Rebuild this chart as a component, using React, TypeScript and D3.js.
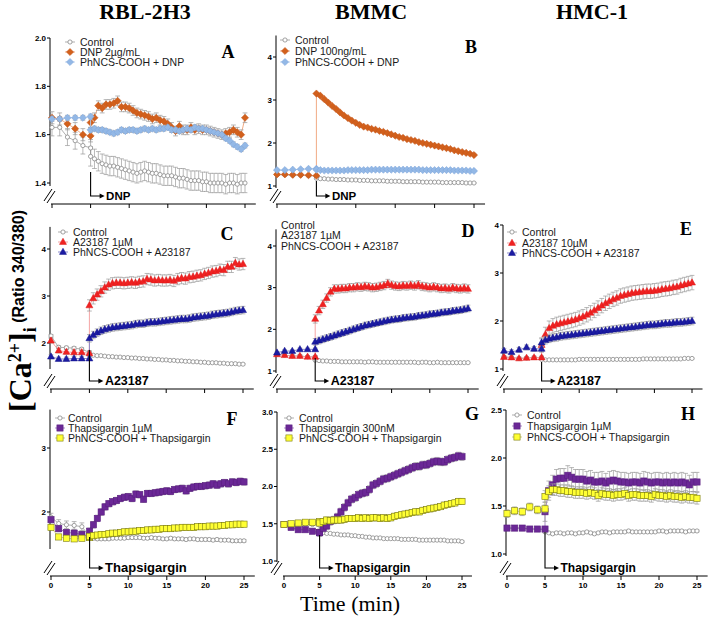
import React from "react";
import * as d3 from "d3";

// ---------- time points (min) ----------
const T_PRE = [0, 1, 2, 3, 4, 5];
const T_POST = [5, 5.5, 6, 6.5, 7, 7.5, 8, 8.5, 9, 9.5, 10, 10.5, 11, 11.5, 12, 12.5, 13, 13.5, 14, 14.5, 15, 15.5, 16, 16.5, 17, 17.5, 18, 18.5, 19, 19.5, 20, 20.5, 21, 21.5, 22, 22.5, 23, 23.5, 24, 24.5, 25];
const X_TICKS = [0, 5, 10, 15, 20, 25];

// ---------- Panel A (RBL-2H3, DNP) ----------
const A_CTRL_PRE = [1.63, 1.63, 1.59, 1.575, 1.555, 1.545];
const A_CTRL_POST = [1.51, 1.50, 1.49, 1.48, 1.475, 1.47, 1.47, 1.465, 1.46, 1.455, 1.45, 1.445, 1.44, 1.445, 1.45, 1.445, 1.44, 1.44, 1.435, 1.43, 1.43, 1.43, 1.425, 1.42, 1.42, 1.415, 1.41, 1.41, 1.41, 1.405, 1.405, 1.40, 1.40, 1.40, 1.40, 1.395, 1.40, 1.40, 1.395, 1.40, 1.40];
const A_DNP_PRE = [1.67, 1.665, 1.645, 1.625, 1.60, 1.595];
const A_DNP_POST = [1.65, 1.67, 1.72, 1.71, 1.725, 1.725, 1.73, 1.74, 1.715, 1.715, 1.71, 1.70, 1.69, 1.685, 1.68, 1.675, 1.665, 1.67, 1.66, 1.655, 1.645, 1.63, 1.615, 1.635, 1.62, 1.62, 1.63, 1.62, 1.625, 1.62, 1.62, 1.615, 1.61, 1.605, 1.60, 1.605, 1.61, 1.62, 1.61, 1.60, 1.67];
const A_PH_PRE = [1.665, 1.665, 1.67, 1.67, 1.67, 1.675];
const A_PH_POST = [1.62, 1.625, 1.62, 1.62, 1.615, 1.61, 1.605, 1.61, 1.62, 1.615, 1.62, 1.62, 1.615, 1.62, 1.625, 1.62, 1.625, 1.62, 1.625, 1.625, 1.63, 1.62, 1.62, 1.615, 1.62, 1.625, 1.62, 1.63, 1.625, 1.625, 1.62, 1.615, 1.61, 1.605, 1.60, 1.585, 1.575, 1.56, 1.55, 1.54, 1.555];

// ---------- Panel B (BMMC, DNP) ----------
const B_CTRL_PRE = [1.26, 1.26, 1.25, 1.25, 1.24, 1.23];
const B_CTRL_POST = [1.18, 1.17, 1.17, 1.16, 1.16, 1.15, 1.15, 1.15, 1.14, 1.14, 1.14, 1.13, 1.13, 1.13, 1.12, 1.12, 1.12, 1.12, 1.11, 1.11, 1.11, 1.11, 1.10, 1.10, 1.10, 1.10, 1.10, 1.09, 1.09, 1.09, 1.09, 1.09, 1.08, 1.08, 1.08, 1.08, 1.08, 1.08, 1.07, 1.07, 1.07];
const B_DNP_PRE = [1.27, 1.27, 1.26, 1.26, 1.25, 1.24];
const B_DNP_POST = [3.15, 3.10, 3.02, 2.94, 2.86, 2.79, 2.71, 2.64, 2.58, 2.52, 2.47, 2.42, 2.38, 2.36, 2.33, 2.31, 2.28, 2.26, 2.23, 2.20, 2.17, 2.14, 2.12, 2.09, 2.07, 2.05, 2.02, 2.00, 1.98, 1.96, 1.94, 1.92, 1.90, 1.88, 1.86, 1.83, 1.81, 1.79, 1.77, 1.75, 1.72];
const B_PH_PRE = [1.37, 1.37, 1.38, 1.39, 1.40, 1.40];
const B_PH_POST = [1.38, 1.37, 1.36, 1.36, 1.36, 1.36, 1.36, 1.36, 1.37, 1.37, 1.37, 1.37, 1.37, 1.37, 1.38, 1.38, 1.38, 1.38, 1.38, 1.38, 1.38, 1.38, 1.38, 1.38, 1.38, 1.38, 1.38, 1.37, 1.37, 1.37, 1.37, 1.37, 1.37, 1.37, 1.37, 1.36, 1.36, 1.36, 1.36, 1.35, 1.35];

// ---------- Panel C (RBL-2H3, A23187) ----------
const C_CTRL_PRE = [2.15, 1.91, 1.90, 1.89, 1.87, 1.80];
const C_CTRL_POST = [1.75, 1.74, 1.73, 1.73, 1.72, 1.71, 1.71, 1.70, 1.70, 1.69, 1.69, 1.68, 1.68, 1.67, 1.67, 1.66, 1.66, 1.65, 1.65, 1.64, 1.64, 1.63, 1.63, 1.62, 1.62, 1.61, 1.61, 1.60, 1.60, 1.59, 1.59, 1.58, 1.58, 1.58, 1.57, 1.57, 1.56, 1.56, 1.56, 1.55, 1.55];
const C_A23_PRE = [2.05, 1.84, 1.81, 1.80, 1.80, 1.78];
const C_A23_POST = [2.80, 2.95, 3.03, 3.10, 3.18, 3.24, 3.27, 3.28, 3.28, 3.27, 3.28, 3.29, 3.28, 3.30, 3.31, 3.36, 3.35, 3.33, 3.34, 3.33, 3.33, 3.34, 3.32, 3.36, 3.38, 3.37, 3.40, 3.41, 3.43, 3.44, 3.47, 3.49, 3.52, 3.53, 3.56, 3.55, 3.62, 3.62, 3.70, 3.67, 3.68];
const C_PH_PRE = [1.71, 1.66, 1.66, 1.67, 1.67, 1.67];
const C_PH_POST = [2.10, 2.17, 2.22, 2.26, 2.29, 2.31, 2.33, 2.34, 2.35, 2.36, 2.37, 2.38, 2.40, 2.41, 2.41, 2.43, 2.44, 2.44, 2.45, 2.46, 2.47, 2.48, 2.49, 2.50, 2.51, 2.51, 2.52, 2.54, 2.55, 2.56, 2.57, 2.58, 2.60, 2.61, 2.62, 2.63, 2.64, 2.66, 2.68, 2.69, 2.70];

// ---------- Panel D (BMMC, A23187) ----------
const D_CTRL_PRE = [1.40, 1.38, 1.36, 1.36, 1.34, 1.34];
const D_CTRL_POST = [1.26, 1.25, 1.24, 1.24, 1.23, 1.23, 1.23, 1.22, 1.22, 1.22, 1.22, 1.22, 1.22, 1.21, 1.22, 1.22, 1.21, 1.21, 1.21, 1.21, 1.21, 1.21, 1.21, 1.21, 1.21, 1.21, 1.21, 1.20, 1.21, 1.21, 1.20, 1.20, 1.21, 1.20, 1.20, 1.20, 1.20, 1.20, 1.20, 1.20, 1.20];
const D_A23_PRE = [1.40, 1.38, 1.36, 1.36, 1.34, 1.34];
const D_A23_POST = [2.25, 2.45, 2.60, 2.75, 2.90, 2.97, 2.97, 2.98, 2.98, 3.00, 3.00, 3.02, 3.01, 3.03, 3.02, 3.00, 3.01, 3.03, 3.05, 3.10, 3.06, 3.04, 3.03, 3.05, 3.04, 3.06, 3.04, 3.07, 3.03, 3.02, 3.00, 3.02, 3.00, 2.98, 2.99, 2.97, 3.00, 2.98, 2.97, 2.99, 2.97];
const D_PH_PRE = [1.44, 1.48, 1.48, 1.52, 1.52, 1.52];
const D_PH_POST = [1.70, 1.73, 1.76, 1.79, 1.82, 1.85, 1.88, 1.91, 1.94, 1.97, 2.00, 2.03, 2.06, 2.09, 2.11, 2.13, 2.15, 2.17, 2.19, 2.21, 2.23, 2.24, 2.25, 2.27, 2.28, 2.29, 2.30, 2.32, 2.33, 2.34, 2.36, 2.37, 2.38, 2.40, 2.41, 2.42, 2.44, 2.45, 2.46, 2.48, 2.50];

// ---------- Panel E (HMC-1, A23187) ----------
const E_CTRL_PRE = [1.25, 1.24, 1.22, 1.23, 1.24, 1.24];
const E_CTRL_POST = [1.20, 1.19, 1.19, 1.19, 1.19, 1.19, 1.19, 1.19, 1.19, 1.19, 1.20, 1.20, 1.20, 1.20, 1.20, 1.20, 1.20, 1.20, 1.20, 1.20, 1.20, 1.20, 1.20, 1.20, 1.20, 1.20, 1.20, 1.21, 1.21, 1.21, 1.21, 1.21, 1.21, 1.21, 1.21, 1.21, 1.21, 1.21, 1.22, 1.22, 1.22];
const E_A23_PRE = [1.25, 1.24, 1.22, 1.23, 1.24, 1.24];
const E_A23_POST = [1.50, 1.72, 1.85, 1.90, 1.93, 1.95, 1.97, 1.99, 2.01, 2.03, 2.06, 2.09, 2.13, 2.17, 2.22, 2.27, 2.32, 2.37, 2.41, 2.45, 2.48, 2.52, 2.54, 2.56, 2.58, 2.59, 2.60, 2.61, 2.62, 2.62, 2.63, 2.64, 2.66, 2.67, 2.68, 2.70, 2.71, 2.74, 2.76, 2.78, 2.80];
const E_PH_PRE = [1.38, 1.35, 1.40, 1.45, 1.42, 1.42];
const E_PH_POST = [1.55, 1.60, 1.63, 1.65, 1.66, 1.68, 1.69, 1.70, 1.71, 1.72, 1.73, 1.74, 1.75, 1.76, 1.77, 1.78, 1.79, 1.80, 1.81, 1.82, 1.83, 1.84, 1.85, 1.86, 1.87, 1.88, 1.89, 1.90, 1.91, 1.92, 1.92, 1.93, 1.94, 1.95, 1.95, 1.96, 1.97, 1.97, 1.98, 1.99, 2.00];

// ---------- Panel F (RBL-2H3, Thapsigargin) ----------
const F_CTRL_PRE = [1.92, 1.82, 1.80, 1.79, 1.77, 1.62];
const F_CTRL_POST = [1.60, 1.59, 1.58, 1.58, 1.58, 1.58, 1.59, 1.59, 1.59, 1.59, 1.60, 1.60, 1.60, 1.60, 1.59, 1.59, 1.60, 1.59, 1.59, 1.58, 1.58, 1.59, 1.58, 1.58, 1.58, 1.57, 1.58, 1.58, 1.57, 1.57, 1.57, 1.57, 1.56, 1.57, 1.56, 1.56, 1.56, 1.55, 1.55, 1.55, 1.55];
const F_TH_PRE = [1.88, 1.74, 1.68, 1.67, 1.65, 1.62];
const F_TH_POST = [1.70, 1.80, 1.90, 2.00, 2.08, 2.13, 2.16, 2.18, 2.21, 2.23, 2.24, 2.21, 2.28, 2.27, 2.20, 2.29, 2.29, 2.30, 2.31, 2.32, 2.33, 2.32, 2.35, 2.36, 2.37, 2.33, 2.37, 2.39, 2.40, 2.40, 2.41, 2.42, 2.44, 2.42, 2.44, 2.46, 2.44, 2.47, 2.46, 2.48, 2.47];
const F_PH_PRE = [1.76, 1.61, 1.59, 1.58, 1.59, 1.60];
const F_PH_POST = [1.62, 1.63, 1.64, 1.65, 1.65, 1.66, 1.67, 1.67, 1.68, 1.69, 1.69, 1.70, 1.70, 1.71, 1.71, 1.72, 1.72, 1.73, 1.73, 1.74, 1.74, 1.74, 1.75, 1.75, 1.76, 1.76, 1.76, 1.76, 1.77, 1.77, 1.77, 1.78, 1.78, 1.78, 1.79, 1.79, 1.80, 1.80, 1.81, 1.81, 1.81];

// ---------- Panel G (BMMC, Thapsigargin) ----------
const G_CTRL_PRE = [1.50, 1.50, 1.50, 1.49, 1.49, 1.48];
const G_CTRL_POST = [1.40, 1.38, 1.37, 1.37, 1.36, 1.36, 1.35, 1.35, 1.35, 1.34, 1.34, 1.33, 1.33, 1.32, 1.32, 1.31, 1.31, 1.31, 1.30, 1.30, 1.30, 1.30, 1.30, 1.29, 1.29, 1.29, 1.29, 1.29, 1.28, 1.28, 1.28, 1.28, 1.28, 1.28, 1.28, 1.28, 1.27, 1.27, 1.27, 1.27, 1.26];
const G_TH_PRE = [1.49, 1.45, 1.42, 1.42, 1.40, 1.38];
const G_TH_POST = [1.38, 1.44, 1.47, 1.53, 1.55, 1.59, 1.66, 1.72, 1.78, 1.83, 1.85, 1.89, 1.91, 1.92, 1.96, 2.02, 2.04, 2.07, 2.10, 2.11, 2.13, 2.15, 2.17, 2.19, 2.21, 2.23, 2.25, 2.27, 2.27, 2.29, 2.29, 2.31, 2.33, 2.34, 2.33, 2.33, 2.36, 2.38, 2.39, 2.41, 2.40];
const G_PH_PRE = [1.49, 1.50, 1.51, 1.52, 1.52, 1.53];
const G_PH_POST = [1.51, 1.53, 1.55, 1.54, 1.55, 1.55, 1.55, 1.56, 1.57, 1.57, 1.57, 1.58, 1.57, 1.58, 1.57, 1.58, 1.58, 1.57, 1.58, 1.57, 1.58, 1.60, 1.61, 1.62, 1.63, 1.64, 1.65, 1.66, 1.66, 1.68, 1.69, 1.70, 1.71, 1.72, 1.73, 1.75, 1.76, 1.77, 1.78, 1.80, 1.80];

// ---------- Panel H (HMC-1, Thapsigargin) ----------
const H_CTRL_PRE = [1.27, 1.27, 1.27, 1.26, 1.26, 1.25];
const H_CTRL_POST = [1.23, 1.22, 1.21, 1.22, 1.22, 1.21, 1.22, 1.22, 1.21, 1.22, 1.22, 1.23, 1.22, 1.21, 1.22, 1.23, 1.23, 1.22, 1.23, 1.23, 1.23, 1.23, 1.24, 1.23, 1.23, 1.23, 1.23, 1.23, 1.23, 1.23, 1.24, 1.24, 1.23, 1.24, 1.24, 1.24, 1.24, 1.23, 1.24, 1.24, 1.24];
const H_TH_PRE = [1.27, 1.27, 1.27, 1.26, 1.26, 1.26];
const H_TH_POST = [1.44, 1.66, 1.72, 1.78, 1.79, 1.79, 1.82, 1.80, 1.78, 1.78, 1.78, 1.76, 1.77, 1.75, 1.75, 1.76, 1.74, 1.76, 1.77, 1.76, 1.75, 1.75, 1.74, 1.75, 1.75, 1.74, 1.76, 1.75, 1.74, 1.75, 1.75, 1.74, 1.75, 1.74, 1.75, 1.74, 1.75, 1.74, 1.72, 1.75, 1.75];
const H_PH_PRE = [1.42, 1.45, 1.44, 1.49, 1.46, 1.47];
const H_PH_POST = [1.60, 1.65, 1.67, 1.67, 1.66, 1.66, 1.65, 1.65, 1.64, 1.64, 1.64, 1.63, 1.64, 1.63, 1.61, 1.63, 1.62, 1.62, 1.61, 1.62, 1.62, 1.63, 1.61, 1.62, 1.62, 1.61, 1.61, 1.61, 1.60, 1.62, 1.61, 1.61, 1.60, 1.61, 1.60, 1.60, 1.59, 1.60, 1.59, 1.59, 1.58];

// ---------- y ticks ----------
const YT_A = [1.4, 1.6, 1.8, 2.0];
const YT_B = [1, 2, 3, 4];
const YT_C = [2, 3, 4];
const YT_D = [1, 2, 3, 4];
const YT_E = [1, 2, 3, 4];
const YT_F = [2, 3];
const YT_G = [1.0, 1.5, 2.0, 2.5, 3.0];
const YT_H = [1.0, 1.5, 2.0, 2.5];

const COLUMN_TITLES = ["RBL-2H3", "BMMC", "HMC-1"];

const SANS = "'Liberation Sans', Arial, Helvetica, sans-serif";
const SERIF = "'Liberation Serif', 'Times New Roman', Times, serif";

type Kind = "control" | "dnp" | "phdnp" | "a23" | "pha23" | "thap" | "phthap";

const STYLE: Record<Kind, { shape: string; fill: string; stroke: string; line: string }> = {
  control: { shape: "circle", fill: "#ffffff", stroke: "#8a8a8a", line: "#a6a6a6" },
  dnp: { shape: "diamond", fill: "#d2601c", stroke: "#c2541a", line: "#eea277" },
  phdnp: { shape: "diamond", fill: "#93b8e6", stroke: "#7aa3d8", line: "#b4cdee" },
  a23: { shape: "triangle", fill: "#ef2222", stroke: "#e01818", line: "#f49a9a" },
  pha23: { shape: "triangle", fill: "#1b1ba3", stroke: "#12128c", line: "#7d7dc6" },
  thap: { shape: "square", fill: "#6b2896", stroke: "#5a1f80", line: "#a27ec0" },
  phthap: { shape: "square", fill: "#ffff33", stroke: "#7b7b12", line: "#cfcf70" },
};

interface SeriesCfg { kind: Kind; label: string; pre: number[]; post: number[]; err: number[] }
interface PanelCfg {
  id: string;
  axisX: number;
  xRange: [number, number];
  yDomain: [number, number];
  yRange: [number, number];
  yTop: number;
  yBottomPx: number;
  xAxisY: number;
  yTicks: number[];
  fmt: string;
  showXLabels: boolean;
  series: SeriesCfg[];
  legend: { mx: number; tx: number; rows: number[]; markers: boolean };
  letter: [number, number];
  stim: { label: string; top: number; size: number };
}

const PANELS: PanelCfg[] = [
  {
    id: "A", axisX: 50, xRange: [52, 245], yDomain: [1.4, 2.0], yRange: [183, 38], yTop: 2.0, yBottomPx: 186, xAxisY: 204,
    yTicks: YT_A, fmt: ".1f", showXLabels: false,
    series: [
      { kind: "control", label: "Control", pre: A_CTRL_PRE, post: A_CTRL_POST, err: [0.035, 0.04] },
      { kind: "dnp", label: "DNP 2\u00b5g/mL", pre: A_DNP_PRE, post: A_DNP_POST, err: [0.025, 0.02] },
      { kind: "phdnp", label: "PhNCS-COOH + DNP", pre: A_PH_PRE, post: A_PH_POST, err: [0.01, 0.01] },
    ],
    legend: { mx: 70, tx: 80, rows: [42, 52, 62], markers: true }, letter: [228, 58],
    stim: { label: "DNP", top: 172, size: 11.5 },
  },
  {
    id: "B", axisX: 276, xRange: [277, 474], yDomain: [1, 4], yRange: [186, 57], yTop: 4.5, yBottomPx: 188, xAxisY: 204,
    yTicks: YT_B, fmt: ".0f", showXLabels: false,
    series: [
      { kind: "control", label: "Control", pre: B_CTRL_PRE, post: B_CTRL_POST, err: [0.01, 0.01] },
      { kind: "dnp", label: "DNP 100ng/mL", pre: B_DNP_PRE, post: B_DNP_POST, err: [0.02, 0.02] },
      { kind: "phdnp", label: "PhNCS-COOH + DNP", pre: B_PH_PRE, post: B_PH_POST, err: [0.01, 0.01] },
    ],
    legend: { mx: 285, tx: 295, rows: [40, 51, 62], markers: true }, letter: [471, 53],
    stim: { label: "DNP", top: 181, size: 11.5 },
  },
  {
    id: "C", axisX: 50, xRange: [51, 243], yDomain: [2, 4], yRange: [343, 249], yTop: 4.47, yBottomPx: 369, xAxisY: 389,
    yTicks: YT_C, fmt: ".0f", showXLabels: false,
    series: [
      { kind: "control", label: "Control", pre: C_CTRL_PRE, post: C_CTRL_POST, err: [0.03, 0.015] },
      { kind: "a23", label: "A23187 1\u00b5M", pre: C_A23_PRE, post: C_A23_POST, err: [0.05, 0.12] },
      { kind: "pha23", label: "PhNCS-COOH + A23187", pre: C_PH_PRE, post: C_PH_POST, err: [0.04, 0.08] },
    ],
    legend: { mx: 63, tx: 73, rows: [232, 242, 252], markers: true }, letter: [227, 240],
    stim: { label: "A23187", top: 350, size: 12.5 },
  },
  {
    id: "D", axisX: 276, xRange: [277, 468], yDomain: [1, 4], yRange: [371, 246], yTop: 4.4, yBottomPx: 373, xAxisY: 389,
    yTicks: YT_D, fmt: ".0f", showXLabels: false,
    series: [
      { kind: "control", label: "Control", pre: D_CTRL_PRE, post: D_CTRL_POST, err: [0.02, 0.01] },
      { kind: "a23", label: "A23187 1\u00b5M", pre: D_A23_PRE, post: D_A23_POST, err: [0.03, 0.1] },
      { kind: "pha23", label: "PhNCS-COOH + A23187", pre: D_PH_PRE, post: D_PH_POST, err: [0.03, 0.08] },
    ],
    legend: { mx: 281, tx: 281, rows: [225, 235, 246], markers: false }, letter: [468, 237],
    stim: { label: "A23187", top: 358, size: 12.5 },
  },
  {
    id: "E", axisX: 503, xRange: [504, 692], yDomain: [1, 4], yRange: [369, 225], yTop: 4.0, yBottomPx: 371, xAxisY: 389,
    yTicks: YT_E, fmt: ".0f", showXLabels: false,
    series: [
      { kind: "control", label: "Control", pre: E_CTRL_PRE, post: E_CTRL_POST, err: [0.01, 0.01] },
      { kind: "a23", label: "A23187 10\u00b5M", pre: E_A23_PRE, post: E_A23_POST, err: [0.03, 0.15] },
      { kind: "pha23", label: "PhNCS-COOH + A23187", pre: E_PH_PRE, post: E_PH_POST, err: [0.05, 0.08] },
    ],
    legend: { mx: 512, tx: 522, rows: [232, 243, 253], markers: true }, letter: [686, 235],
    stim: { label: "A23187", top: 362, size: 12.5 },
  },
  {
    id: "F", axisX: 50, xRange: [51, 244], yDomain: [2, 3], yRange: [512, 448], yTop: 3.6, yBottomPx: 549, xAxisY: 576,
    yTicks: YT_F, fmt: ".0f", showXLabels: true,
    series: [
      { kind: "control", label: "Control", pre: F_CTRL_PRE, post: F_CTRL_POST, err: [0.06, 0.02] },
      { kind: "thap", label: "Thapsigargin 1\u00b5M", pre: F_TH_PRE, post: F_TH_POST, err: [0.05, 0.05] },
      { kind: "phthap", label: "PhNCS-COOH + Thapsigargin", pre: F_PH_PRE, post: F_PH_POST, err: [0.03, 0.04] },
    ],
    legend: { mx: 60, tx: 68, rows: [418, 428, 438], markers: true }, letter: [232, 425],
    stim: { label: "Thapsigargin", top: 537, size: 13 },
  },
  {
    id: "G", axisX: 277, xRange: [284, 462], yDomain: [1, 3], yRange: [561, 412], yTop: 3.0, yBottomPx: 562, xAxisY: 576,
    yTicks: YT_G, fmt: ".1f", showXLabels: true,
    series: [
      { kind: "control", label: "Control", pre: G_CTRL_PRE, post: G_CTRL_POST, err: [0.01, 0.01] },
      { kind: "thap", label: "Thapsigargin 300nM", pre: G_TH_PRE, post: G_TH_POST, err: [0.02, 0.05] },
      { kind: "phthap", label: "PhNCS-COOH + Thapsigargin", pre: G_PH_PRE, post: G_PH_POST, err: [0.02, 0.04] },
    ],
    legend: { mx: 289, tx: 299, rows: [418, 428, 438], markers: true }, letter: [472, 420],
    stim: { label: "Thapsigargin", top: 535, size: 12 },
  },
  {
    id: "H", axisX: 506, xRange: [507, 697], yDomain: [1, 2.5], yRange: [554, 410], yTop: 2.5, yBottomPx: 556, xAxisY: 576,
    yTicks: YT_H, fmt: ".1f", showXLabels: true,
    series: [
      { kind: "control", label: "Control", pre: H_CTRL_PRE, post: H_CTRL_POST, err: [0.01, 0.01] },
      { kind: "thap", label: "Thapsigargin 1\u00b5M", pre: H_TH_PRE, post: H_TH_POST, err: [0.02, 0.1] },
      { kind: "phthap", label: "PhNCS-COOH + Thapsigargin", pre: H_PH_PRE, post: H_PH_POST, err: [0.04, 0.06] },
    ],
    legend: { mx: 517, tx: 527, rows: [415, 426, 437], markers: true }, letter: [688, 420],
    stim: { label: "Thapsigargin", top: 532, size: 12 },
  },
];

function Marker({ kind, x, y }: { kind: Kind; x: number; y: number }) {
  const s = STYLE[kind];
  if (s.shape === "circle")
    return <circle cx={x} cy={y} r={2.1} fill={s.fill} stroke={s.stroke} strokeWidth={0.8} />;
  if (s.shape === "diamond")
    return <path d={`M${x},${y - 3.6}L${x + 3.6},${y}L${x},${y + 3.6}L${x - 3.6},${y}Z`} fill={s.fill} stroke={s.stroke} strokeWidth={0.5} />;
  if (s.shape === "triangle")
    return <path d={`M${x},${y - 3.8}L${x + 3.5},${y + 2.4}L${x - 3.5},${y + 2.4}Z`} fill={s.fill} stroke={s.stroke} strokeWidth={0.5} />;
  return <rect x={x - 3.1} y={y - 3.1} width={6.2} height={6.2} fill={s.fill} stroke={s.stroke} strokeWidth={0.6} />;
}

function Panel({ p }: { p: PanelCfg }) {
  const x = d3.scaleLinear().domain([0, 25]).range(p.xRange);
  const y = d3.scaleLinear().domain(p.yDomain).range(p.yRange);
  const fmt = d3.format(p.fmt);
  const line = d3.line<{ t: number; v: number }>().x((d) => x(d.t)).y((d) => y(d.v));
  const ax = p.axisX;
  const xa = p.xAxisY;
  const x5 = x(5);
  const armY = xa - 8;

  return (
    <g>
      {/* y axis */}
      <line x1={ax} x2={ax} y1={y(p.yTop)} y2={p.yBottomPx} stroke="#000" strokeWidth={1} />
      {p.yTicks.map((t) => (
        <g key={t}>
          <line x1={ax - 3} x2={ax} y1={y(t)} y2={y(t)} stroke="#000" strokeWidth={1} />
          <text x={ax - 4} y={y(t)} dy="0.35em" textAnchor="end" fontFamily={SANS} fontWeight="bold" fontSize={8} fill="#000">
            {fmt(t)}
          </text>
        </g>
      ))}
      {/* axis break */}
      <line x1={ax - 6} y1={xa - 3} x2={ax + 2} y2={xa - 15} stroke="#000" strokeWidth={1} />
      <line x1={ax - 3} y1={xa - 1} x2={ax + 5} y2={xa - 13} stroke="#000" strokeWidth={1} />
      {/* x axis */}
      <line x1={x(0) - 1} x2={x(26.4)} y1={xa} y2={xa} stroke="#000" strokeWidth={1} />
      {X_TICKS.map((t) => (
        <g key={t}>
          <line x1={x(t)} x2={x(t)} y1={xa} y2={xa + 4} stroke="#000" strokeWidth={1} />
          {p.showXLabels && (
            <text x={x(t)} y={xa + 12} textAnchor="middle" fontFamily={SANS} fontWeight="bold" fontSize={8} fill="#000">
              {t}
            </text>
          )}
        </g>
      ))}
      {/* series */}
      {p.series.map((s, si) => {
        const pts = [
          ...T_PRE.map((t, i) => ({ t, v: s.pre[i], e: s.err[0] })),
          ...T_POST.map((t, i) => ({ t, v: s.post[i], e: s.err[1] })),
        ];
        const st = STYLE[s.kind];
        return (
          <g key={si}>
            <path d={line(pts) || ""} fill="none" stroke={st.line} strokeWidth={0.9} />
            {pts.map((d, i) => {
              const px = x(d.t);
              const y1 = y(d.v + d.e);
              const y2 = y(d.v - d.e);
              return (
                <g key={"e" + i} stroke="#9a9a9a" strokeWidth={0.7}>
                  <line x1={px} x2={px} y1={y1} y2={y2} />
                  <line x1={px - 2.4} x2={px + 2.4} y1={y1} y2={y1} />
                  <line x1={px - 2.4} x2={px + 2.4} y1={y2} y2={y2} />
                </g>
              );
            })}
            {pts.map((d, i) => (
              <Marker key={"m" + i} kind={s.kind} x={x(d.t)} y={y(d.v)} />
            ))}
          </g>
        );
      })}
      {/* stimulus arrow */}
      <path d={`M${x5},${p.stim.top}V${armY}H${x5 + 10}`} fill="none" stroke="#000" strokeWidth={1.1} />
      <path d={`M${x5 + 9},${armY - 2.6}L${x5 + 14},${armY}L${x5 + 9},${armY + 2.6}Z`} fill="#000" />
      <text x={x5 + 15.5} y={armY + 4.3} fontFamily={SANS} fontWeight="bold" fontSize={p.stim.size} fill="#000">
        {p.stim.label}
      </text>
      {/* legend */}
      {p.series.map((s, si) => {
        const ly = p.legend.rows[si];
        const st = STYLE[s.kind];
        return (
          <g key={"l" + si}>
            {p.legend.markers && (
              <>
                <line x1={p.legend.mx - 5} x2={p.legend.mx + 5} y1={ly} y2={ly} stroke={st.line} strokeWidth={0.9} />
                <Marker kind={s.kind} x={p.legend.mx} y={ly} />
              </>
            )}
            <text x={p.legend.tx} y={ly + 3.6} fontFamily={SANS} fontSize={10.5} fill="#1a1a1a">
              {s.label}
            </text>
          </g>
        );
      })}
      {/* panel letter */}
      <text x={p.letter[0]} y={p.letter[1]} textAnchor="middle" fontFamily={SERIF} fontWeight="bold" fontSize={18} fill="#000">
        {p.id}
      </text>
    </g>
  );
}

export default function App() {
  const titleX = [145, 371, 592];
  return (
    <svg width={709} height={618} style={{ position: "absolute", left: 0, top: 0, background: "#fff" }}>
      <rect x={0} y={0} width={709} height={618} fill="#fff" />
      {COLUMN_TITLES.map((t, i) => (
        <text key={t} x={titleX[i]} y={19} textAnchor="middle" fontFamily={SERIF} fontWeight="bold" fontSize={22} fill="#000">
          {t}
        </text>
      ))}
      {PANELS.map((p) => (
        <Panel key={p.id} p={p} />
      ))}
      <g transform="translate(31,412) rotate(-90)">
        <text textAnchor="start" fill="#000">
          <tspan fontFamily={SERIF} fontWeight="bold" fontSize={32}>[Ca</tspan>
          <tspan fontFamily={SERIF} fontWeight="bold" fontSize={18} dy={-10}>2+</tspan>
          <tspan fontFamily={SERIF} fontWeight="bold" fontSize={32} dy={10}>]</tspan>
          <tspan fontFamily={SERIF} fontWeight="bold" fontSize={18} dy={5}>i</tspan>
          <tspan fontFamily={SANS} fontWeight="bold" fontSize={16} dy={-12}> (Ratio 340/380)</tspan>
        </text>
      </g>
      <text x={350} y={611} textAnchor="middle" fontFamily={SERIF} fontSize={22} fill="#000">
        Time (min)
      </text>
    </svg>
  );
}
